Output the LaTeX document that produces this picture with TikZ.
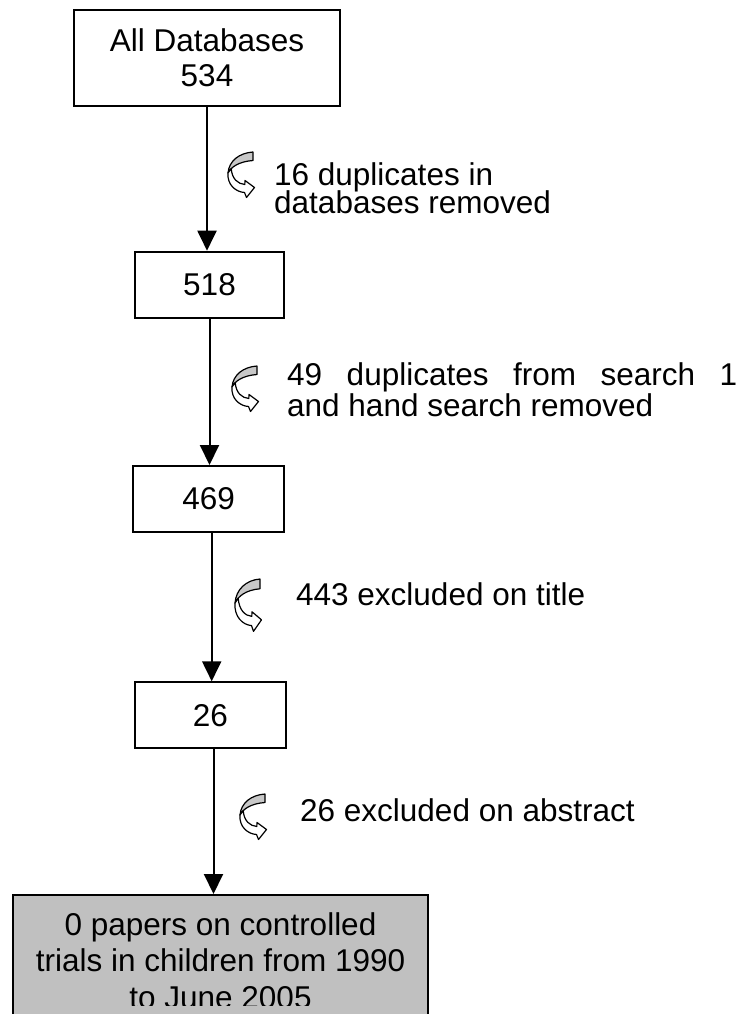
\documentclass[tikz,border=0pt]{standalone}
\usepackage{fontspec}
\setmainfont{Liberation Sans}
\usetikzlibrary{arrows.meta}
\definecolor{boxgray}{HTML}{C0C0C0}
\definecolor{ribbongray}{HTML}{C8C8C8}
\tikzset{
  stagebox/.style={draw=black, line width=2pt, fill=white, inner sep=0pt,
    align=center, font=\fontsize{31.5}{35}\selectfont},
  flowarrow/.style={line width=2pt, -{Triangle[width=19pt,length=20pt]}},
  note/.style={anchor=base west, inner sep=0pt, font=\fontsize{31.5}{35}\selectfont},
  resulttext/.style={anchor=base, inner sep=0pt, font=\fontsize{31.5}{35}\selectfont},
  curlarrow/.pic={
    % shaded back of the twisted ribbon
    \filldraw[fill=ribbongray, line width=1.2pt, line join=round]
      (25,0) .. controls (11,1) and (1,9) .. (0,21)
      .. controls (3,15) and (11,9.5) .. (25,8.5) -- cycle;
    % white front of the ribbon ending in the arrow head
    \filldraw[fill=white, line width=1.2pt, line join=round]
      (0,21) .. controls (-1,33) and (8,40) .. (16.5,40.5)
      -- (18.5,45.5) -- (26.5,35.5) -- (17,28.5) -- (16.8,32.5)
      .. controls (10,32) and (4,27) .. (3.2,16.6) -- cycle;
  }
}
\begin{document}
\begin{tikzpicture}[x=1pt,y=-1pt]
  \useasboundingbox (0,0) rectangle (741,1014);
  \clip (0,0) rectangle (741,1014);

  % stages of the search
  \node[stagebox, minimum width=266pt, minimum height=96pt] (b1) at (207,58) {All Databases\\534};
  \node[stagebox, minimum width=149pt, minimum height=66pt] (b2) at (209.5,284.7) {518};
  \node[stagebox, minimum width=150.7pt, minimum height=66pt] (b3) at (208.7,499) {469};
  \node[stagebox, minimum width=151pt, minimum height=66pt] (b4) at (210.5,715.3) {26};
  \node[draw=black, line width=2pt, fill=boxgray, inner sep=0pt, anchor=north,
        minimum width=415pt, minimum height=140pt] (b5) at (220.5,894) {};

  % result text, cut off by the lower edge of its frame
  \begin{scope}
    \clip (0,880) rectangle (741,1005);
    \node[resulttext] (t5a) at (220.5,935) {0 papers on controlled};
    \node[resulttext] (t5b) at (220.5,971.5) {trials in children from 1990};
    \node[resulttext] (t5c) at (220.5,1008) {to June 2005};
  \end{scope}

  % connectors
  \draw[flowarrow] (b1.south) -- (b1.south |- b2.north);
  \draw[flowarrow] (b2.south) -- (b2.south |- b3.north);
  \draw[flowarrow] ([xshift=3pt]b3.south) -- ([xshift=3pt]b3.south |- b4.north);
  \draw[flowarrow] ([xshift=3pt]b4.south) -- ([xshift=3pt]b4.south |- b5.north);

  % exclusion marks
  \pic at (228,152) {curlarrow};
  \pic at (232,366) {curlarrow};
  \pic[yscale=1.15] at (235,579) {curlarrow};
  \pic at (240,794) {curlarrow};

  % exclusion notes
  \node[note] (l1a) at (274,185) {16 duplicates in};
  \node[note] (l1b) at (274,213.5) {databases removed};
  \node[note] (l2a) at (287,385) {\makebox[450pt][s]{49 duplicates from search 1}};
  \node[note] (l2b) at (287,416) {and hand search removed};
  \node[note] (l3) at (296,605) {443 excluded on title};
  \node[note] (l4) at (300,821.5) {26 excluded on abstract};
\end{tikzpicture}
\end{document}
